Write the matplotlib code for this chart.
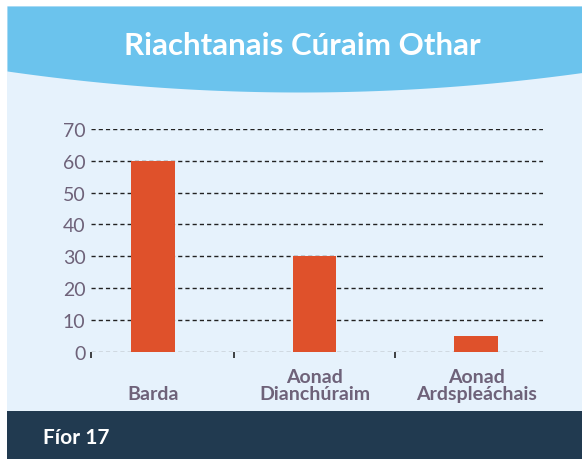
import numpy as np
import matplotlib
matplotlib.use("Agg")
import matplotlib.pyplot as plt

categories = ["Barda", "Aonad\nDianchúraim", "Aonad\nArdspleáchais"]
values = [60, 30, 5]
yticks = [0, 10, 20, 30, 40, 50, 60, 70]
title = "Riachtanais Cúraim Othar"
caption = "Fíor 17"

W, H = 582, 460
header_blue = "#6bc3ed"
panel_blue = "#e6f2fc"
bar_red = "#df512b"
dark_band = "#213a50"
label_col = "#6e6279"

plt.rcParams["font.family"] = ["Lato", "DejaVu Sans"]

fig = plt.figure(figsize=(W / 100, H / 100), dpi=100)

# background panels drawn in pixel coords
bg = fig.add_axes([0, 0, 1, 1], zorder=0)
bg.set_xlim(0, W)
bg.set_ylim(H, 0)
bg.axis("off")
bg.add_patch(plt.Rectangle((7, 7), W - 7, 405, color=panel_blue, lw=0))
xs = np.linspace(7, W, 200)
curve = 93 - 2.45e-4 * (xs - 300) ** 2
bg.fill_between(xs, 7, curve, color=header_blue, lw=0)
bg.add_patch(plt.Rectangle((7, 412), W - 7, H - 412, color=dark_band, lw=0))
bg.text(302, 46, title, color="white", fontsize=22.5, fontweight="bold",
        ha="center", va="center")
bg.text(43, 438, caption, color="white", fontsize=15, fontweight="bold",
        ha="left", va="center")

# chart
ax = fig.add_axes([91 / W, 1 - 352.7 / H, (543 - 91) / W, (352.7 - 130) / H], zorder=1)
ax.patch.set_alpha(0)
x = np.arange(len(categories))
ax.bar(x, values, width=0.27, color=bar_red, zorder=3)
ax.set_xlim(-0.383, 2.414)
ax.set_ylim(0, 70)

for s in ax.spines.values():
    s.set_visible(False)

ax.set_yticks(yticks)
ax.set_yticklabels([str(v) for v in yticks])
ax.tick_params(axis="y", length=0, pad=4, labelsize=14, labelcolor=label_col)

for v in yticks:
    ax.axhline(v, color="#222222" if v else "#777777", lw=1.0,
               ls=(0, (3, 2.2)), zorder=1)

ax.set_xticks(x)
ax.set_xticklabels([])
ax.tick_params(axis="x", which="major", length=0)
ax.set_xticks([-0.383, 0.5, 1.5], minor=True)
ax.tick_params(axis="x", which="minor", length=4, width=1.2, color="#222222",
               direction="out")

for xi, name in zip(x, categories):
    ax.text(xi, -0.226, name, transform=ax.get_xaxis_transform(),
            ha="center", va="bottom", fontsize=14, fontweight="bold",
            color=label_col, linespacing=1.0)

fig.savefig("out.png", dpi=100)
